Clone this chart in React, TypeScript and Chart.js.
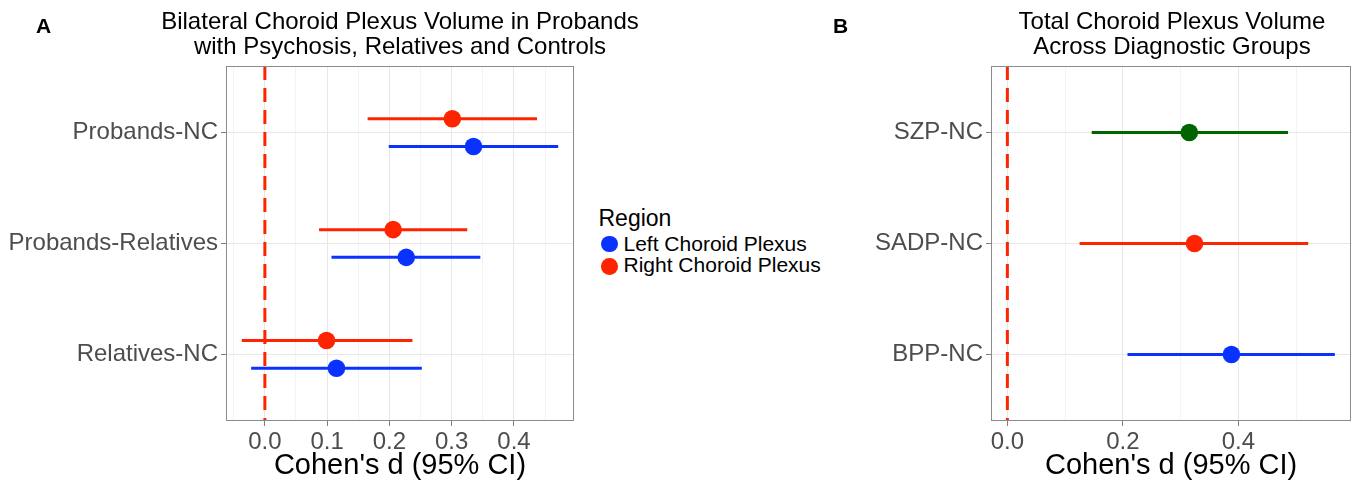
import React, { useEffect, useRef } from 'react';
import { Chart, registerables } from 'chart.js';

Chart.register(...registerables);

const FONT = "'Liberation Sans', Arial, Helvetica, sans-serif";

// ---- Panel A data ----
const CATEGORIES_A = ['Probands-NC', 'Probands-Relatives', 'Relatives-NC'];
const SERIES_A = ['Left Choroid Plexus', 'Right Choroid Plexus'];
const LEFT_D = [0.335, 0.227, 0.115];
const LEFT_LO = [0.199, 0.107, -0.022];
const LEFT_HI = [0.471, 0.346, 0.252];
const RIGHT_D = [0.301, 0.206, 0.099];
const RIGHT_LO = [0.165, 0.087, -0.037];
const RIGHT_HI = [0.437, 0.325, 0.237];
const TICKS_A_MAJOR = [0, 0.1, 0.2, 0.3, 0.4];
const TICKS_A_MINOR = [-0.05, 0.05, 0.15, 0.25, 0.35, 0.45];

// ---- Panel B data ----
const CATEGORIES_B = ['SZP-NC', 'SADP-NC', 'BPP-NC'];
const TOTAL_D = [0.315, 0.324, 0.388];
const TOTAL_LO = [0.146, 0.125, 0.208];
const TOTAL_HI = [0.486, 0.521, 0.567];
const TICKS_B_MAJOR = [0, 0.2, 0.4];
const TICKS_B_MINOR = [0.1, 0.3, 0.5];

const TITLE_A = ['Bilateral Choroid Plexus Volume in Probands', 'with Psychosis, Relatives and Controls'];
const TITLE_B = ['Total Choroid Plexus Volume', 'Across Diagnostic Groups'];
const X_TITLE = "Cohen's d (95% CI)";
const LEGEND_TITLE = 'Region';

const RED = '#FF2400';
const BLUE = '#0A32FF';
const GREEN = '#006400';
const COLORS_A = [BLUE, RED];
const COLORS_B = [GREEN, RED, BLUE];

const Y_MIN = -0.6;
const Y_MAX = 2.6;

type Series = { d: number[]; lo: number[]; hi: number[]; colors: string[]; offset: number };

function xRange(series: Series[]): [number, number] {
  const lows = series.flatMap((s) => s.lo);
  const highs = series.flatMap((s) => s.hi);
  const mn = Math.min(0, ...lows);
  const mx = Math.max(0, ...highs);
  const p = (mx - mn) * 0.05;
  return [mn - p, mx + p];
}

const borderPlugin = {
  id: 'panelBorder',
  afterDatasetsDraw(chart: any) {
    const { ctx, chartArea } = chart;
    const { left, top, right, bottom } = chartArea;
    ctx.save();
    ctx.strokeStyle = '#8c8c8c';
    ctx.lineWidth = 1;
    ctx.strokeRect(Math.round(left) + 0.5, Math.round(top) + 0.5, Math.round(right - left) - 1, Math.round(bottom - top) - 1);
    ctx.restore();
  },
};

type ForestProps = {
  categories: string[];
  series: Series[];
  majors: number[];
  minors: number[];
  left: number;
  width: number;
  yAxisWidth: number;
  padRight: number;
};

function isIn(v: number, arr: number[]) {
  return arr.some((m) => Math.abs(m - v) < 1e-9);
}

function ForestChart({ categories, series, majors, minors, left, width, yAxisWidth, padRight }: ForestProps) {
  const ref = useRef<HTMLCanvasElement | null>(null);
  useEffect(() => {
    if (!ref.current) return;
    const [xMin, xMax] = xRange(series);
    const datasets: any[] = [];
    datasets.push({
      data: [
        { x: 0, y: Y_MIN },
        { x: 0, y: Y_MAX },
      ],
      showLine: true,
      borderColor: RED,
      borderWidth: 3,
      borderDash: [14, 8],
      pointRadius: 0,
      order: 3,
    });
    series.forEach((s) => {
      s.d.forEach((_, i) => {
        datasets.push({
          data: [
            { x: s.lo[i], y: i + s.offset },
            { x: s.hi[i], y: i + s.offset },
          ],
          showLine: true,
          borderColor: s.colors[i],
          borderWidth: 3,
          pointRadius: 0,
          order: 2,
        });
      });
      datasets.push({
        data: s.d.map((v, i) => ({ x: v, y: i + s.offset })),
        showLine: false,
        pointRadius: 8.8,
        pointBackgroundColor: s.colors,
        pointBorderColor: s.colors,
        pointBorderWidth: 0,
        order: 1,
      });
    });
    const allTicks = [...majors, ...minors].sort((a, b) => a - b);
    const chart = new Chart(ref.current, {
      type: 'scatter',
      data: { datasets },
      plugins: [borderPlugin],
      options: {
        animation: false,
        responsive: false,
        events: [],
        layout: { padding: { top: 66, right: padRight, bottom: 0, left: 0 } },
        plugins: { legend: { display: false }, tooltip: { enabled: false }, title: { display: false } },
        scales: {
          x: {
            type: 'linear',
            min: xMin,
            max: xMax,
            bounds: 'data',
            afterBuildTicks: (scale: any) => {
              scale.ticks = allTicks.map((v) => ({ value: v }));
            },
            afterFit: (scale: any) => {
              scale.height = 62;
            },
            border: { display: false },
            grid: {
              color: (ctx: any) => (ctx.tick && isIn(ctx.tick.value, majors) ? '#E8E8E8' : '#F4F4F4'),
              tickColor: (ctx: any) => (ctx.tick && isIn(ctx.tick.value, majors) ? '#7f7f7f' : 'rgba(0,0,0,0)'),
              tickLength: 5,
              drawTicks: true,
            },
            ticks: {
              autoSkip: false,
              maxRotation: 0,
              padding: 2,
              color: '#4D4D4D',
              font: { family: FONT, size: 24 },
              callback: (v: any) => (isIn(Number(v), majors) ? Number(v).toFixed(1) : ''),
            },
            title: {
              display: true,
              text: X_TITLE,
              color: '#000000',
              font: { family: FONT, size: 29 },
              padding: { top: 0, bottom: 0 },
            },
          },
          y: {
            type: 'linear',
            min: Y_MIN,
            max: Y_MAX,
            reverse: true,
            afterBuildTicks: (scale: any) => {
              scale.ticks = categories.map((_, i) => ({ value: i }));
            },
            afterFit: (scale: any) => {
              scale.width = yAxisWidth;
            },
            border: { display: false },
            grid: { color: '#E8E8E8', tickColor: '#7f7f7f', tickLength: 5, drawTicks: true },
            ticks: {
              autoSkip: false,
              padding: 3,
              color: '#4D4D4D',
              font: { family: FONT, size: 24 },
              callback: (v: any) => categories[Math.round(Number(v))] ?? '',
            },
          },
        },
      } as any,
    });
    return () => chart.destroy();
  }, []);
  return (
    <canvas
      ref={ref}
      width={width}
      height={483}
      style={{ position: 'absolute', left, top: 0, width, height: 483 }}
    />
  );
}

const seriesA: Series[] = [
  { d: LEFT_D, lo: LEFT_LO, hi: LEFT_HI, colors: LEFT_D.map(() => COLORS_A[0]), offset: 0.125 },
  { d: RIGHT_D, lo: RIGHT_LO, hi: RIGHT_HI, colors: RIGHT_D.map(() => COLORS_A[1]), offset: -0.125 },
];
const seriesB: Series[] = [{ d: TOTAL_D, lo: TOTAL_LO, hi: TOTAL_HI, colors: COLORS_B, offset: 0 }];

export default function App() {
  const titleStyle: React.CSSProperties = {
    position: 'absolute',
    top: 7.5,
    width: 600,
    textAlign: 'center',
    fontSize: 24,
    lineHeight: '25px',
    whiteSpace: 'nowrap',
    color: '#000',
  };
  const letterStyle: React.CSSProperties = {
    position: 'absolute',
    top: 15,
    fontSize: 21,
    fontWeight: 700,
    lineHeight: '21px',
    color: '#000',
  };
  return (
    <div
      style={{
        position: 'absolute',
        left: 0,
        top: 0,
        width: 1360,
        height: 483,
        background: '#fff',
        fontFamily: FONT,
        overflow: 'hidden',
      }}
    >
      <ForestChart
        categories={CATEGORIES_A}
        series={seriesA}
        majors={TICKS_A_MAJOR}
        minors={TICKS_A_MINOR}
        left={0}
        width={590}
        yAxisWidth={226}
        padRight={16}
      />
      <ForestChart
        categories={CATEGORIES_B}
        series={seriesB}
        majors={TICKS_B_MAJOR}
        minors={TICKS_B_MINOR}
        left={840}
        width={520}
        yAxisWidth={151}
        padRight={7}
      />
      <div style={{ ...letterStyle, left: 36 }}>A</div>
      <div style={{ ...letterStyle, left: 833 }}>B</div>
      <div style={{ ...titleStyle, left: 100 }}>
        {TITLE_A[0]}
        <br />
        {TITLE_A[1]}
      </div>
      <div style={{ ...titleStyle, left: 872 }}>
        {TITLE_B[0]}
        <br />
        {TITLE_B[1]}
      </div>
      <div style={{ position: 'absolute', left: 598.5, top: 206.5, fontSize: 23, lineHeight: '23px', color: '#000' }}>
        {LEGEND_TITLE}
      </div>
      {SERIES_A.map((label, i) => (
        <React.Fragment key={label}>
          <div
            style={{
              position: 'absolute',
              left: 601,
              top: 235.7 + i * 22.7,
              width: 16.6,
              height: 16.6,
              borderRadius: '50%',
              background: COLORS_A[i],
            }}
          />
          <div
            style={{
              position: 'absolute',
              left: 623.5,
              top: 232.9 + i * 21,
              fontSize: 21,
              lineHeight: '21px',
              whiteSpace: 'nowrap',
              color: '#000',
            }}
          >
            {label}
          </div>
        </React.Fragment>
      ))}
    </div>
  );
}
